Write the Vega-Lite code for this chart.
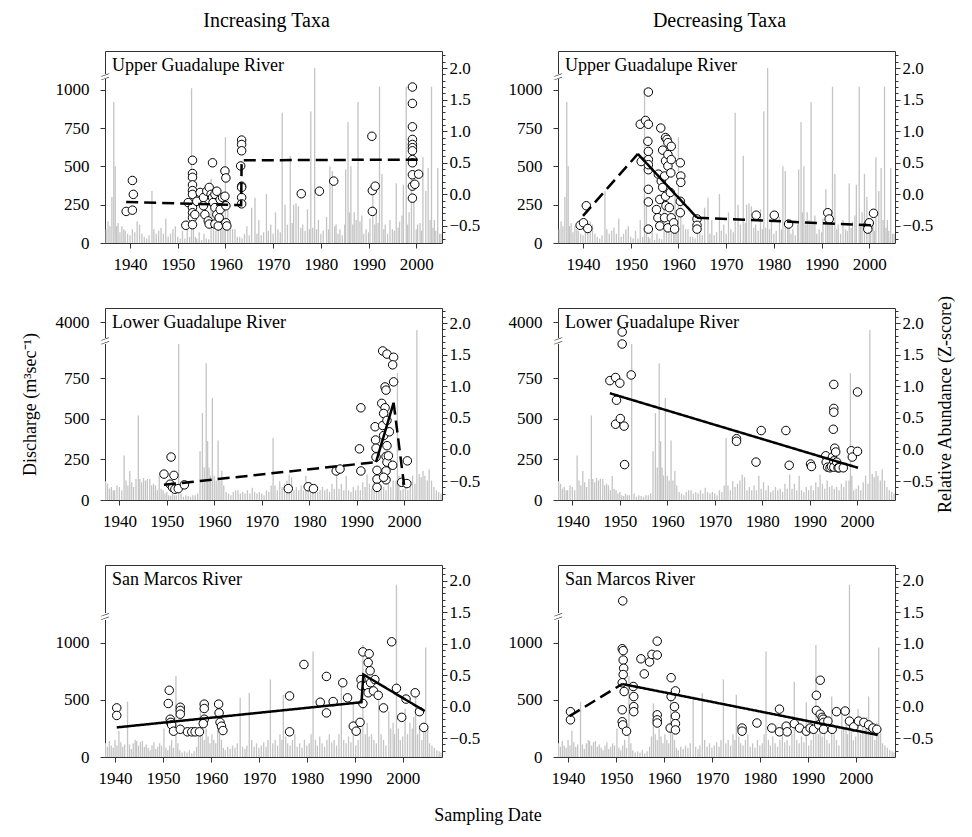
{
"$schema":"https://vega.github.io/schema/vega-lite/v6.json",
"padding":{"left":20,"top":10,"right":5,"bottom":5},
"config":{"font":"Liberation Serif","view":{"stroke":"#333","strokeWidth":1},
"axis":{"labelFont":"Liberation Serif","labelFontSize":17,"labelColor":"black","tickColor":"#333","domain":false,"grid":false,"titleFont":"Liberation Serif","titleFontSize":18,"titleFontWeight":"normal","titleColor":"black","labelOverlap":false,"labelFlush":false,"labelBound":false},
"title":{"font":"Liberation Serif","fontSize":20,"fontWeight":"normal","color":"black","offset":20,"anchor":"middle"}},
"title":{"text":"Sampling Date","orient":"bottom","fontSize":18,"offset":20},
"datasets":{
"qU":[{"t":1935.0,"q":90},{"t":1935.4,"q":140},{"t":1935.8,"q":110},{"t":1936.2,"q":300},{"t":1936.6,"q":920},{"t":1936.9,"q":500},{"t":1937.2,"q":110},{"t":1937.5,"q":130},{"t":1937.9,"q":70},{"t":1938.3,"q":110},{"t":1938.7,"q":90},{"t":1939.0,"q":80},{"t":1939.5,"q":60},{"t":1940.0,"q":50},{"t":1940.5,"q":90},{"t":1941.0,"q":70},{"t":1941.5,"q":140},{"t":1942.0,"q":120},{"t":1942.5,"q":60},{"t":1943.0,"q":40},{"t":1943.5,"q":30},{"t":1944.0,"q":50},{"t":1944.6,"q":340},{"t":1945.0,"q":90},{"t":1945.5,"q":60},{"t":1946.0,"q":80},{"t":1946.5,"q":100},{"t":1947.0,"q":60},{"t":1947.5,"q":160},{"t":1948.0,"q":40},{"t":1948.5,"q":60},{"t":1949.0,"q":90},{"t":1949.5,"q":110},{"t":1950.0,"q":40},{"t":1950.5,"q":30},{"t":1951.0,"q":80},{"t":1951.5,"q":30},{"t":1952.0,"q":150},{"t":1952.5,"q":40},{"t":1952.9,"q":1010},{"t":1953.3,"q":260},{"t":1953.7,"q":40},{"t":1954.0,"q":30},{"t":1954.5,"q":70},{"t":1955.0,"q":20},{"t":1955.5,"q":60},{"t":1956.0,"q":30},{"t":1956.5,"q":25},{"t":1957.0,"q":420},{"t":1957.5,"q":90},{"t":1958.0,"q":80},{"t":1958.5,"q":150},{"t":1959.0,"q":120},{"t":1959.3,"q":330},{"t":1959.7,"q":100},{"t":1960.0,"q":690},{"t":1960.5,"q":300},{"t":1961.0,"q":120},{"t":1961.5,"q":90},{"t":1962.0,"q":90},{"t":1962.5,"q":40},{"t":1963.0,"q":40},{"t":1963.5,"q":30},{"t":1964.0,"q":60},{"t":1964.5,"q":110},{"t":1965.0,"q":50},{"t":1965.5,"q":230},{"t":1966.2,"q":295},{"t":1966.6,"q":60},{"t":1967.0,"q":150},{"t":1967.5,"q":50},{"t":1968.0,"q":70},{"t":1968.6,"q":320},{"t":1969.0,"q":80},{"t":1969.5,"q":120},{"t":1970.0,"q":60},{"t":1970.5,"q":200},{"t":1971.0,"q":90},{"t":1971.5,"q":70},{"t":1971.9,"q":850},{"t":1972.5,"q":250},{"t":1973.0,"q":120},{"t":1973.6,"q":570},{"t":1974.0,"q":130},{"t":1974.3,"q":250},{"t":1974.8,"q":260},{"t":1975.3,"q":240},{"t":1975.8,"q":100},{"t":1976.2,"q":120},{"t":1976.7,"q":80},{"t":1977.2,"q":220},{"t":1977.6,"q":90},{"t":1977.9,"q":860},{"t":1978.3,"q":100},{"t":1978.7,"q":1970},{"t":1979.1,"q":90},{"t":1979.5,"q":150},{"t":1980.0,"q":60},{"t":1980.5,"q":80},{"t":1981.2,"q":170},{"t":1981.6,"q":90},{"t":1981.9,"q":500},{"t":1982.4,"q":470},{"t":1982.9,"q":110},{"t":1983.2,"q":120},{"t":1983.6,"q":60},{"t":1984.0,"q":90},{"t":1984.5,"q":50},{"t":1985.0,"q":120},{"t":1985.2,"q":480},{"t":1985.7,"q":790},{"t":1986.0,"q":200},{"t":1986.3,"q":500},{"t":1986.7,"q":120},{"t":1987.0,"q":200},{"t":1987.4,"q":150},{"t":1987.8,"q":920},{"t":1988.2,"q":140},{"t":1988.6,"q":180},{"t":1989.0,"q":60},{"t":1989.5,"q":90},{"t":1990.0,"q":70},{"t":1990.3,"q":160},{"t":1990.9,"q":350},{"t":1991.3,"q":120},{"t":1991.6,"q":200},{"t":1992.0,"q":130},{"t":1992.3,"q":1020},{"t":1992.8,"q":450},{"t":1993.2,"q":90},{"t":1993.5,"q":120},{"t":1994.0,"q":60},{"t":1994.5,"q":150},{"t":1995.0,"q":90},{"t":1995.4,"q":80},{"t":1995.8,"q":390},{"t":1996.2,"q":100},{"t":1996.5,"q":140},{"t":1997.0,"q":180},{"t":1997.3,"q":380},{"t":1997.9,"q":1020},{"t":1998.2,"q":120},{"t":1998.5,"q":200},{"t":1999.0,"q":450},{"t":1999.5,"q":300},{"t":2000.0,"q":90},{"t":2000.3,"q":120},{"t":2000.8,"q":130},{"t":2001.1,"q":80},{"t":2001.4,"q":560},{"t":2002.0,"q":340},{"t":2002.5,"q":490},{"t":2002.9,"q":150},{"t":2003.2,"q":1020},{"t":2003.5,"q":100},{"t":2003.8,"q":150},{"t":2004.1,"q":80},{"t":2004.5,"q":490},{"t":2004.9,"q":60},{"t":2005.2,"q":60}],
"qL":[{"t":1937.1,"q":115},{"t":1937.5,"q":100},{"t":1937.9,"q":70},{"t":1938.3,"q":80},{"t":1938.7,"q":60},{"t":1939.0,"q":60},{"t":1939.5,"q":90},{"t":1940.0,"q":80},{"t":1940.5,"q":60},{"t":1941.0,"q":274},{"t":1941.4,"q":120},{"t":1941.8,"q":90},{"t":1942.2,"q":178},{"t":1942.6,"q":110},{"t":1943.0,"q":80},{"t":1943.5,"q":130},{"t":1944.0,"q":520},{"t":1944.3,"q":130},{"t":1944.7,"q":110},{"t":1945.1,"q":135},{"t":1945.5,"q":120},{"t":1945.9,"q":130},{"t":1946.4,"q":130},{"t":1946.8,"q":90},{"t":1947.2,"q":100},{"t":1947.6,"q":90},{"t":1948.0,"q":60},{"t":1948.4,"q":147},{"t":1948.8,"q":70},{"t":1949.2,"q":60},{"t":1949.6,"q":40},{"t":1950.0,"q":50},{"t":1950.4,"q":30},{"t":1950.8,"q":25},{"t":1951.2,"q":40},{"t":1951.6,"q":30},{"t":1952.0,"q":30},{"t":1952.5,"q":965},{"t":1953.0,"q":40},{"t":1953.5,"q":20},{"t":1954.0,"q":30},{"t":1954.5,"q":25},{"t":1955.0,"q":20},{"t":1955.5,"q":30},{"t":1956.0,"q":30},{"t":1956.5,"q":40},{"t":1957.0,"q":300},{"t":1957.5,"q":535},{"t":1957.9,"q":200},{"t":1958.3,"q":842},{"t":1958.6,"q":362},{"t":1958.9,"q":200},{"t":1959.2,"q":150},{"t":1959.6,"q":628},{"t":1960.0,"q":150},{"t":1960.4,"q":120},{"t":1960.8,"q":366},{"t":1961.2,"q":120},{"t":1961.6,"q":180},{"t":1962.0,"q":90},{"t":1962.5,"q":50},{"t":1963.0,"q":40},{"t":1963.5,"q":30},{"t":1964.0,"q":50},{"t":1964.5,"q":60},{"t":1965.0,"q":60},{"t":1965.5,"q":40},{"t":1966.0,"q":50},{"t":1966.5,"q":40},{"t":1967.0,"q":60},{"t":1967.5,"q":40},{"t":1968.0,"q":75},{"t":1968.5,"q":50},{"t":1969.0,"q":40},{"t":1969.5,"q":50},{"t":1970.0,"q":40},{"t":1970.5,"q":30},{"t":1971.0,"q":60},{"t":1971.5,"q":50},{"t":1972.0,"q":90},{"t":1972.4,"q":382},{"t":1972.8,"q":90},{"t":1973.3,"q":60},{"t":1973.8,"q":115},{"t":1974.3,"q":80},{"t":1974.8,"q":100},{"t":1975.3,"q":120},{"t":1975.8,"q":157},{"t":1976.3,"q":140},{"t":1976.8,"q":60},{"t":1977.3,"q":80},{"t":1977.8,"q":60},{"t":1978.3,"q":90},{"t":1978.8,"q":60},{"t":1979.3,"q":150},{"t":1979.8,"q":70},{"t":1980.3,"q":110},{"t":1980.8,"q":60},{"t":1981.3,"q":90},{"t":1981.8,"q":50},{"t":1982.3,"q":60},{"t":1982.8,"q":80},{"t":1983.3,"q":60},{"t":1983.8,"q":70},{"t":1984.3,"q":50},{"t":1984.8,"q":100},{"t":1985.3,"q":70},{"t":1985.8,"q":157},{"t":1986.3,"q":70},{"t":1986.8,"q":100},{"t":1987.3,"q":60},{"t":1987.8,"q":150},{"t":1988.3,"q":60},{"t":1988.8,"q":50},{"t":1989.3,"q":80},{"t":1989.8,"q":60},{"t":1990.3,"q":90},{"t":1990.8,"q":60},{"t":1991.3,"q":110},{"t":1991.8,"q":80},{"t":1992.2,"q":157},{"t":1992.7,"q":100},{"t":1993.2,"q":70},{"t":1993.7,"q":120},{"t":1994.2,"q":80},{"t":1994.7,"q":90},{"t":1995.2,"q":70},{"t":1995.7,"q":80},{"t":1996.2,"q":60},{"t":1996.7,"q":100},{"t":1997.2,"q":80},{"t":1997.7,"q":120},{"t":1998.3,"q":120},{"t":1998.6,"q":781},{"t":1998.9,"q":150},{"t":1999.3,"q":60},{"t":1999.8,"q":70},{"t":2000.3,"q":90},{"t":2000.8,"q":60},{"t":2001.3,"q":110},{"t":2001.8,"q":150},{"t":2002.3,"q":100},{"t":2002.7,"q":3500},{"t":2003.2,"q":160},{"t":2003.6,"q":140},{"t":2004.0,"q":178},{"t":2004.4,"q":150},{"t":2004.9,"q":120},{"t":2005.3,"q":190},{"t":2005.8,"q":120},{"t":2006.3,"q":80},{"t":2006.8,"q":60},{"t":2007.3,"q":50},{"t":2007.8,"q":40}],
"qS":[{"t":1938.0,"q":120},{"t":1938.4,"q":90},{"t":1938.8,"q":140},{"t":1939.2,"q":100},{"t":1939.6,"q":80},{"t":1940.0,"q":150},{"t":1940.4,"q":100},{"t":1940.8,"q":230},{"t":1941.2,"q":130},{"t":1941.6,"q":90},{"t":1942.0,"q":110},{"t":1942.6,"q":485},{"t":1943.0,"q":110},{"t":1943.4,"q":70},{"t":1943.8,"q":120},{"t":1944.2,"q":150},{"t":1944.5,"q":140},{"t":1944.9,"q":100},{"t":1945.3,"q":130},{"t":1945.7,"q":140},{"t":1946.1,"q":90},{"t":1946.5,"q":110},{"t":1946.9,"q":80},{"t":1947.3,"q":60},{"t":1947.7,"q":100},{"t":1948.1,"q":130},{"t":1948.5,"q":70},{"t":1948.9,"q":90},{"t":1949.3,"q":120},{"t":1949.7,"q":100},{"t":1950.2,"q":250},{"t":1950.6,"q":80},{"t":1951.0,"q":60},{"t":1951.4,"q":100},{"t":1951.8,"q":150},{"t":1952.2,"q":80},{"t":1952.7,"q":710},{"t":1953.1,"q":120},{"t":1953.5,"q":60},{"t":1954.0,"q":40},{"t":1954.5,"q":50},{"t":1955.0,"q":40},{"t":1955.5,"q":60},{"t":1956.0,"q":30},{"t":1956.5,"q":50},{"t":1957.0,"q":90},{"t":1957.4,"q":180},{"t":1957.8,"q":470},{"t":1958.2,"q":200},{"t":1958.6,"q":150},{"t":1959.0,"q":250},{"t":1959.4,"q":180},{"t":1959.8,"q":120},{"t":1960.2,"q":200},{"t":1960.6,"q":150},{"t":1961.0,"q":120},{"t":1961.4,"q":490},{"t":1961.8,"q":200},{"t":1962.2,"q":150},{"t":1962.6,"q":80},{"t":1963.0,"q":60},{"t":1963.5,"q":90},{"t":1964.0,"q":70},{"t":1964.5,"q":100},{"t":1965.0,"q":80},{"t":1965.5,"q":120},{"t":1966.1,"q":520},{"t":1966.6,"q":90},{"t":1967.1,"q":70},{"t":1967.5,"q":100},{"t":1968.0,"q":560},{"t":1968.5,"q":150},{"t":1969.0,"q":90},{"t":1969.5,"q":120},{"t":1970.0,"q":80},{"t":1970.5,"q":100},{"t":1971.0,"q":130},{"t":1971.5,"q":90},{"t":1971.9,"q":150},{"t":1972.4,"q":680},{"t":1972.9,"q":120},{"t":1973.4,"q":150},{"t":1973.9,"q":100},{"t":1974.4,"q":200},{"t":1974.8,"q":150},{"t":1975.1,"q":545},{"t":1975.6,"q":180},{"t":1976.0,"q":120},{"t":1976.5,"q":100},{"t":1977.0,"q":150},{"t":1977.5,"q":200},{"t":1978.0,"q":90},{"t":1978.5,"q":120},{"t":1979.0,"q":80},{"t":1979.5,"q":150},{"t":1980.0,"q":100},{"t":1980.5,"q":120},{"t":1980.9,"q":200},{"t":1981.3,"q":925},{"t":1981.8,"q":150},{"t":1982.2,"q":100},{"t":1982.7,"q":180},{"t":1983.2,"q":120},{"t":1983.7,"q":90},{"t":1984.2,"q":150},{"t":1984.7,"q":200},{"t":1985.2,"q":130},{"t":1985.7,"q":150},{"t":1986.2,"q":100},{"t":1986.7,"q":200},{"t":1987.2,"q":660},{"t":1987.7,"q":150},{"t":1988.2,"q":120},{"t":1988.7,"q":180},{"t":1989.2,"q":130},{"t":1989.7,"q":480},{"t":1990.2,"q":100},{"t":1990.7,"q":150},{"t":1991.2,"q":250},{"t":1991.7,"q":980},{"t":1992.2,"q":200},{"t":1992.6,"q":300},{"t":1993.0,"q":180},{"t":1993.5,"q":200},{"t":1994.0,"q":150},{"t":1994.5,"q":120},{"t":1995.0,"q":530},{"t":1995.5,"q":200},{"t":1996.0,"q":150},{"t":1996.5,"q":100},{"t":1997.1,"q":400},{"t":1997.5,"q":250},{"t":1998.0,"q":300},{"t":1998.3,"q":200},{"t":1998.7,"q":2740},{"t":1999.1,"q":250},{"t":1999.5,"q":150},{"t":2000.0,"q":180},{"t":2000.5,"q":420},{"t":2001.0,"q":200},{"t":2001.5,"q":300},{"t":2002.0,"q":250},{"t":2002.3,"q":350},{"t":2002.7,"q":530},{"t":2003.1,"q":200},{"t":2003.5,"q":250},{"t":2004.0,"q":150},{"t":2004.4,"q":300},{"t":2004.8,"q":960},{"t":2005.2,"q":250},{"t":2005.6,"q":120},{"t":2006.1,"q":100},{"t":2006.6,"q":80},{"t":2007.1,"q":60},{"t":2007.6,"q":50},{"t":2008.0,"q":40}],
"pts":[
{"p":"UI","t":1939.2,"z":-0.27},{"p":"UI","t":1940.5,"z":-0.25},{"p":"UI","t":1940.5,"z":0.22},{"p":"UI","t":1940.7,"z":0.0},{"p":"UI","t":1951.7,"z":-0.49},{"p":"UI","t":1952.2,"z":-0.13},{"p":"UI","t":1953.1,"z":0.54},{"p":"UI","t":1953.1,"z":0.33},{"p":"UI","t":1953.1,"z":0.27},{"p":"UI","t":1953.1,"z":0.15},{"p":"UI","t":1953.1,"z":0.06},{"p":"UI","t":1953.1,"z":0.0},{"p":"UI","t":1953.1,"z":-0.21},{"p":"UI","t":1953.1,"z":-0.29},{"p":"UI","t":1953.1,"z":-0.37},{"p":"UI","t":1953.1,"z":-0.48},{"p":"UI","t":1953.6,"z":-0.32},{"p":"UI","t":1954.0,"z":-0.11},{"p":"UI","t":1954.7,"z":0.03},{"p":"UI","t":1955.4,"z":-0.05},{"p":"UI","t":1955.4,"z":-0.18},{"p":"UI","t":1955.7,"z":-0.32},{"p":"UI","t":1956.1,"z":0.05},{"p":"UI","t":1956.4,"z":-0.42},{"p":"UI","t":1956.6,"z":0.11},{"p":"UI","t":1956.6,"z":-0.47},{"p":"UI","t":1957.0,"z":0.0},{"p":"UI","t":1957.3,"z":0.5},{"p":"UI","t":1957.3,"z":-0.05},{"p":"UI","t":1957.4,"z":-0.13},{"p":"UI","t":1957.8,"z":-0.21},{"p":"UI","t":1957.8,"z":0.0},{"p":"UI","t":1957.8,"z":-0.47},{"p":"UI","t":1958.2,"z":-0.32},{"p":"UI","t":1958.2,"z":0.05},{"p":"UI","t":1958.5,"z":-0.5},{"p":"UI","t":1958.7,"z":-0.37},{"p":"UI","t":1958.9,"z":-0.24},{"p":"UI","t":1958.9,"z":-0.08},{"p":"UI","t":1959.4,"z":-0.05},{"p":"UI","t":1959.9,"z":0.37},{"p":"UI","t":1960.1,"z":0.26},{"p":"UI","t":1959.9,"z":-0.03},{"p":"UI","t":1960.1,"z":-0.18},{"p":"UI","t":1960.1,"z":-0.45},{"p":"UI","t":1960.3,"z":-0.5},{"p":"UI","t":1963.4,"z":0.86},{"p":"UI","t":1963.4,"z":0.79},{"p":"UI","t":1963.4,"z":0.69},{"p":"UI","t":1963.2,"z":0.45},{"p":"UI","t":1963.4,"z":0.13},{"p":"UI","t":1963.4,"z":0.11},{"p":"UI","t":1963.4,"z":-0.05},{"p":"UI","t":1963.4,"z":-0.15},{"p":"UI","t":1975.9,"z":0.01},{"p":"UI","t":1979.7,"z":0.05},{"p":"UI","t":1982.7,"z":0.21},{"p":"UI","t":1990.7,"z":0.92},{"p":"UI","t":1990.8,"z":0.06},{"p":"UI","t":1991.4,"z":0.13},{"p":"UI","t":1990.8,"z":-0.27},{"p":"UI","t":1999.2,"z":1.7},{"p":"UI","t":1999.2,"z":1.44},{"p":"UI","t":1999.2,"z":1.07},{"p":"UI","t":1999.2,"z":0.87},{"p":"UI","t":1999.2,"z":0.79},{"p":"UI","t":1999.2,"z":0.74},{"p":"UI","t":1999.2,"z":0.69},{"p":"UI","t":1999.2,"z":0.55},{"p":"UI","t":1999.2,"z":0.5},{"p":"UI","t":1999.2,"z":0.31},{"p":"UI","t":1999.2,"z":0.13},{"p":"UI","t":1999.2,"z":-0.06},{"p":"UI","t":2000.5,"z":0.32},{"p":"UI","t":1999.7,"z":0.16},
{"p":"UD","t":1939.4,"z":-0.49},{"p":"UD","t":1940.1,"z":-0.45},{"p":"UD","t":1940.7,"z":-0.18},{"p":"UD","t":1941.0,"z":-0.54},{"p":"UD","t":1952.0,"z":1.11},{"p":"UD","t":1953.1,"z":1.17},{"p":"UD","t":1953.7,"z":1.11},{"p":"UD","t":1953.7,"z":1.62},{"p":"UD","t":1953.6,"z":0.84},{"p":"UD","t":1953.7,"z":0.68},{"p":"UD","t":1953.7,"z":0.55},{"p":"UD","t":1953.7,"z":0.39},{"p":"UD","t":1953.7,"z":0.47},{"p":"UD","t":1953.7,"z":0.08},{"p":"UD","t":1953.7,"z":-0.12},{"p":"UD","t":1953.7,"z":-0.55},{"p":"UD","t":1952.2,"z":0.52},{"p":"UD","t":1955.4,"z":-0.24},{"p":"UD","t":1955.7,"z":-0.37},{"p":"UD","t":1955.8,"z":0.32},{"p":"UD","t":1956.1,"z":-0.08},{"p":"UD","t":1956.1,"z":-0.5},{"p":"UD","t":1956.3,"z":1.05},{"p":"UD","t":1956.4,"z":0.21},{"p":"UD","t":1956.7,"z":0.7},{"p":"UD","t":1956.7,"z":0.11},{"p":"UD","t":1957.1,"z":0.29},{"p":"UD","t":1957.1,"z":-0.37},{"p":"UD","t":1957.3,"z":0.9},{"p":"UD","t":1957.3,"z":0.53},{"p":"UD","t":1957.3,"z":-0.03},{"p":"UD","t":1957.4,"z":-0.18},{"p":"UD","t":1957.6,"z":0.87},{"p":"UD","t":1957.8,"z":0.82},{"p":"UD","t":1957.8,"z":0.63},{"p":"UD","t":1957.8,"z":0.45},{"p":"UD","t":1957.8,"z":-0.53},{"p":"UD","t":1958.1,"z":-0.21},{"p":"UD","t":1958.3,"z":0.03},{"p":"UD","t":1958.4,"z":0.34},{"p":"UD","t":1958.5,"z":0.76},{"p":"UD","t":1958.5,"z":0.55},{"p":"UD","t":1958.5,"z":-0.37},{"p":"UD","t":1959.0,"z":-0.45},{"p":"UD","t":1959.2,"z":-0.55},{"p":"UD","t":1960.4,"z":0.5},{"p":"UD","t":1960.5,"z":0.29},{"p":"UD","t":1960.5,"z":0.19},{"p":"UD","t":1960.4,"z":-0.11},{"p":"UD","t":1960.4,"z":-0.29},{"p":"UD","t":1963.9,"z":-0.39},{"p":"UD","t":1963.9,"z":-0.49},{"p":"UD","t":1963.9,"z":-0.55},{"p":"UD","t":1976.3,"z":-0.33},{"p":"UD","t":1980.1,"z":-0.33},{"p":"UD","t":1983.1,"z":-0.47},{"p":"UD","t":1991.3,"z":-0.29},{"p":"UD","t":1991.6,"z":-0.39},{"p":"UD","t":1999.7,"z":-0.49},{"p":"UD","t":2000.0,"z":-0.45},{"p":"UD","t":1999.7,"z":-0.55},{"p":"UD","t":2000.9,"z":-0.3},
{"p":"LI","t":1949.4,"z":-0.39},{"p":"LI","t":1950.9,"z":-0.12},{"p":"LI","t":1950.7,"z":-0.55},{"p":"LI","t":1951.2,"z":-0.6},{"p":"LI","t":1951.5,"z":-0.41},{"p":"LI","t":1951.7,"z":-0.63},{"p":"LI","t":1952.4,"z":-0.62},{"p":"LI","t":1953.7,"z":-0.56},{"p":"LI","t":1975.6,"z":-0.62},{"p":"LI","t":1979.8,"z":-0.59},{"p":"LI","t":1980.9,"z":-0.62},{"p":"LI","t":1985.7,"z":-0.34},{"p":"LI","t":1986.5,"z":-0.31},{"p":"LI","t":1990.6,"z":0.01},{"p":"LI","t":1990.9,"z":0.66},{"p":"LI","t":1990.9,"z":-0.34},{"p":"LI","t":1993.9,"z":0.36},{"p":"LI","t":1994.0,"z":0.15},{"p":"LI","t":1994.1,"z":0.02},{"p":"LI","t":1994.1,"z":-0.12},{"p":"LI","t":1994.3,"z":-0.33},{"p":"LI","t":1994.3,"z":-0.47},{"p":"LI","t":1994.3,"z":-0.6},{"p":"LI","t":1995.5,"z":1.56},{"p":"LI","t":1996.4,"z":1.51},{"p":"LI","t":1996.0,"z":0.99},{"p":"LI","t":1996.2,"z":0.94},{"p":"LI","t":1995.3,"z":0.73},{"p":"LI","t":1996.0,"z":0.66},{"p":"LI","t":1995.7,"z":0.57},{"p":"LI","t":1995.5,"z":0.38},{"p":"LI","t":1995.7,"z":0.22},{"p":"LI","t":1996.4,"z":0.06},{"p":"LI","t":1996.2,"z":-0.11},{"p":"LI","t":1996.4,"z":-0.2},{"p":"LI","t":1996.2,"z":-0.34},{"p":"LI","t":1996.2,"z":-0.48},{"p":"LI","t":1996.7,"z":-0.1},{"p":"LI","t":1996.4,"z":0.46},{"p":"LI","t":1996.9,"z":0.28},{"p":"LI","t":1995.7,"z":-0.44},{"p":"LI","t":1997.8,"z":1.46},{"p":"LI","t":1997.6,"z":1.34},{"p":"LI","t":1997.8,"z":1.07},{"p":"LI","t":1997.6,"z":-0.25},{"p":"LI","t":1999.5,"z":-0.52},{"p":"LI","t":2000.6,"z":-0.54},{"p":"LI","t":2000.7,"z":-0.18},
{"p":"LD","t":1947.9,"z":1.09},{"p":"LD","t":1949.1,"z":1.14},{"p":"LD","t":1949.3,"z":0.78},{"p":"LD","t":1949.1,"z":0.4},{"p":"LD","t":1950.0,"z":1.05},{"p":"LD","t":1950.1,"z":0.49},{"p":"LD","t":1950.5,"z":1.86},{"p":"LD","t":1950.5,"z":1.67},{"p":"LD","t":1950.9,"z":0.37},{"p":"LD","t":1951.0,"z":-0.24},{"p":"LD","t":1952.4,"z":1.18},{"p":"LD","t":1974.6,"z":0.17},{"p":"LD","t":1974.6,"z":0.13},{"p":"LD","t":1978.7,"z":-0.2},{"p":"LD","t":1979.8,"z":0.3},{"p":"LD","t":1985.0,"z":0.3},{"p":"LD","t":1985.7,"z":-0.25},{"p":"LD","t":1990.2,"z":-0.23},{"p":"LD","t":1990.4,"z":-0.27},{"p":"LD","t":1993.4,"z":-0.1},{"p":"LD","t":1993.5,"z":-0.2},{"p":"LD","t":1993.8,"z":-0.28},{"p":"LD","t":1994.3,"z":-0.29},{"p":"LD","t":1994.6,"z":-0.27},{"p":"LD","t":1994.8,"z":-0.12},{"p":"LD","t":1995.1,"z":1.03},{"p":"LD","t":1995.1,"z":0.65},{"p":"LD","t":1995.1,"z":0.59},{"p":"LD","t":1995.0,"z":0.32},{"p":"LD","t":1995.3,"z":0.02},{"p":"LD","t":1995.5,"z":-0.04},{"p":"LD","t":1995.1,"z":-0.18},{"p":"LD","t":1995.1,"z":-0.28},{"p":"LD","t":1995.7,"z":-0.2},{"p":"LD","t":1996.0,"z":-0.29},{"p":"LD","t":1996.2,"z":-0.29},{"p":"LD","t":1997.1,"z":-0.29},{"p":"LD","t":1998.8,"z":-0.02},{"p":"LD","t":1999.0,"z":-0.12},{"p":"LD","t":2000.1,"z":-0.03},{"p":"LD","t":2000.1,"z":0.91},
{"p":"SI","t":1940.35,"z":-0.02},{"p":"SI","t":1940.35,"z":-0.14},{"p":"SI","t":1951.3,"z":0.26},{"p":"SI","t":1951.1,"z":0.05},{"p":"SI","t":1951.5,"z":-0.2},{"p":"SI","t":1951.6,"z":-0.25},{"p":"SI","t":1951.8,"z":-0.29},{"p":"SI","t":1952.2,"z":-0.39},{"p":"SI","t":1953.6,"z":-0.01},{"p":"SI","t":1953.6,"z":-0.06},{"p":"SI","t":1953.6,"z":-0.12},{"p":"SI","t":1953.6,"z":-0.36},{"p":"SI","t":1955.1,"z":-0.4},{"p":"SI","t":1956.0,"z":-0.4},{"p":"SI","t":1956.7,"z":-0.4},{"p":"SI","t":1957.6,"z":-0.4},{"p":"SI","t":1958.6,"z":0.04},{"p":"SI","t":1958.6,"z":-0.03},{"p":"SI","t":1958.6,"z":-0.2},{"p":"SI","t":1958.4,"z":-0.27},{"p":"SI","t":1961.6,"z":0.04},{"p":"SI","t":1961.7,"z":-0.1},{"p":"SI","t":1961.9,"z":-0.25},{"p":"SI","t":1962.2,"z":-0.31},{"p":"SI","t":1962.5,"z":-0.38},{"p":"SI","t":1976.4,"z":0.17},{"p":"SI","t":1976.4,"z":-0.4},{"p":"SI","t":1979.4,"z":0.67},{"p":"SI","t":1982.8,"z":0.07},{"p":"SI","t":1984.1,"z":0.48},{"p":"SI","t":1984.1,"z":-0.1},{"p":"SI","t":1985.5,"z":0.08},{"p":"SI","t":1987.5,"z":0.38},{"p":"SI","t":1988.5,"z":0.14},{"p":"SI","t":1989.7,"z":-0.31},{"p":"SI","t":1990.3,"z":-0.39},{"p":"SI","t":1991.1,"z":-0.25},{"p":"SI","t":1991.7,"z":0.87},{"p":"SI","t":1991.3,"z":0.43},{"p":"SI","t":1991.4,"z":0.33},{"p":"SI","t":1991.7,"z":0.05},{"p":"SI","t":1992.5,"z":0.33},{"p":"SI","t":1993.0,"z":0.84},{"p":"SI","t":1992.8,"z":0.7},{"p":"SI","t":1993.2,"z":0.57},{"p":"SI","t":1993.3,"z":0.38},{"p":"SI","t":1992.8,"z":0.22},{"p":"SI","t":1993.9,"z":0.25},{"p":"SI","t":1994.2,"z":0.43},{"p":"SI","t":1994.9,"z":0.18},{"p":"SI","t":1996.0,"z":-0.02},{"p":"SI","t":1997.7,"z":1.03},{"p":"SI","t":1998.7,"z":0.29},{"p":"SI","t":1999.8,"z":-0.17},{"p":"SI","t":2000.7,"z":0.12},{"p":"SI","t":2002.6,"z":0.22},{"p":"SI","t":2003.5,"z":-0.08},{"p":"SI","t":2004.4,"z":-0.33},
{"p":"SD","t":1940.5,"z":-0.08},{"p":"SD","t":1940.5,"z":-0.21},{"p":"SD","t":1951.4,"z":1.68},{"p":"SD","t":1951.3,"z":0.92},{"p":"SD","t":1951.5,"z":0.89},{"p":"SD","t":1951.5,"z":0.74},{"p":"SD","t":1951.6,"z":0.61},{"p":"SD","t":1951.5,"z":0.51},{"p":"SD","t":1951.3,"z":0.38},{"p":"SD","t":1951.7,"z":0.24},{"p":"SD","t":1951.3,"z":-0.05},{"p":"SD","t":1951.3,"z":-0.24},{"p":"SD","t":1951.4,"z":-0.29},{"p":"SD","t":1952.2,"z":-0.39},{"p":"SD","t":1953.6,"z":0.32},{"p":"SD","t":1953.7,"z":0.16},{"p":"SD","t":1953.7,"z":0.0},{"p":"SD","t":1953.7,"z":-0.08},{"p":"SD","t":1955.2,"z":0.76},{"p":"SD","t":1955.9,"z":0.52},{"p":"SD","t":1957.0,"z":0.71},{"p":"SD","t":1957.5,"z":0.83},{"p":"SD","t":1958.6,"z":1.04},{"p":"SD","t":1958.6,"z":0.82},{"p":"SD","t":1958.6,"z":-0.13},{"p":"SD","t":1958.6,"z":-0.21},{"p":"SD","t":1958.6,"z":-0.26},{"p":"SD","t":1961.5,"z":0.46},{"p":"SD","t":1961.5,"z":0.16},{"p":"SD","t":1961.3,"z":-0.34},{"p":"SD","t":1962.4,"z":0.25},{"p":"SD","t":1962.2,"z":0.0},{"p":"SD","t":1962.4,"z":-0.15},{"p":"SD","t":1962.4,"z":-0.27},{"p":"SD","t":1962.4,"z":-0.37},{"p":"SD","t":1976.3,"z":-0.34},{"p":"SD","t":1976.3,"z":-0.39},{"p":"SD","t":1979.4,"z":-0.26},{"p":"SD","t":1982.5,"z":-0.34},{"p":"SD","t":1984.1,"z":-0.04},{"p":"SD","t":1984.1,"z":-0.4},{"p":"SD","t":1985.5,"z":-0.31},{"p":"SD","t":1985.7,"z":-0.4},{"p":"SD","t":1987.2,"z":-0.27},{"p":"SD","t":1988.3,"z":-0.34},{"p":"SD","t":1989.7,"z":-0.39},{"p":"SD","t":1990.5,"z":-0.34},{"p":"SD","t":1991.2,"z":-0.36},{"p":"SD","t":1991.8,"z":0.18},{"p":"SD","t":1991.8,"z":-0.06},{"p":"SD","t":1992.3,"z":-0.29},{"p":"SD","t":1992.6,"z":0.42},{"p":"SD","t":1992.6,"z":-0.12},{"p":"SD","t":1993.0,"z":-0.17},{"p":"SD","t":1993.2,"z":-0.2},{"p":"SD","t":1993.3,"z":-0.25},{"p":"SD","t":1993.3,"z":-0.36},{"p":"SD","t":1994.2,"z":-0.23},{"p":"SD","t":1995.1,"z":-0.36},{"p":"SD","t":1996.0,"z":-0.08},{"p":"SD","t":1997.8,"z":-0.07},{"p":"SD","t":1998.7,"z":-0.23},{"p":"SD","t":1999.6,"z":-0.32},{"p":"SD","t":2000.6,"z":-0.23},{"p":"SD","t":2001.7,"z":-0.25},{"p":"SD","t":2002.7,"z":-0.29},{"p":"SD","t":2003.6,"z":-0.34},{"p":"SD","t":2004.4,"z":-0.36}],
"trend":[
{"p":"UI","s":"a","d":"d","t":1939.2,"z":-0.12},{"p":"UI","s":"a","d":"d","t":1963.3,"z":-0.17},{"p":"UI","s":"a","d":"d","t":1963.4,"z":0.54},{"p":"UI","s":"a","d":"d","t":2000.5,"z":0.55},
{"p":"UD","s":"a","d":"d","t":1940.0,"z":-0.34},{"p":"UD","s":"a","d":"d","t":1951.5,"z":0.64},{"p":"UD","s":"b","d":"s","t":1951.5,"z":0.64},{"p":"UD","s":"b","d":"s","t":1963.9,"z":-0.37},{"p":"UD","s":"c","d":"d","t":1963.9,"z":-0.37},{"p":"UD","s":"c","d":"d","t":2000.7,"z":-0.49},
{"p":"LI","s":"a","d":"d","t":1949.4,"z":-0.56},{"p":"LI","s":"a","d":"d","t":1994.1,"z":-0.2},{"p":"LI","s":"b","d":"s","t":1994.1,"z":-0.2},{"p":"LI","s":"b","d":"s","t":1997.8,"z":0.74},{"p":"LI","s":"c","d":"d","t":1997.8,"z":0.74},{"p":"LI","s":"c","d":"d","t":2000.0,"z":-0.56},
{"p":"LD","s":"a","d":"s","t":1947.9,"z":0.89},{"p":"LD","s":"a","d":"s","t":2000.2,"z":-0.29},
{"p":"SI","s":"a","d":"s","t":1940.35,"z":-0.33},{"p":"SI","s":"a","d":"s","t":1991.4,"z":0.07},{"p":"SI","s":"a","d":"s","t":1991.8,"z":0.51},{"p":"SI","s":"a","d":"s","t":2004.6,"z":-0.07},
{"p":"SD","s":"a","d":"d","t":1940.3,"z":-0.15},{"p":"SD","s":"a","d":"d","t":1951.3,"z":0.36},{"p":"SD","s":"b","d":"s","t":1951.3,"z":0.36},{"p":"SD","s":"b","d":"s","t":2004.6,"z":-0.45}]
},
"columns":2,
"bounds":"flush",
"spacing":{"row":65,"column":116},
"concat":[
{"width":337,"height":192,"title":{"text":"Increasing Taxa","dx":-7},
 "layer":[
  {"layer":[
   {"data":{"name":"qU"},"mark":{"type":"rule","color":"#c4c4c4","strokeWidth":1.3,"clip":true},
    "encoding":{"x":{"field":"t","type":"quantitative","scale":{"domain":[1934.76,2005.4],"nice":false,"zero":false},"axis":{"values":[1940,1945,1950,1955,1960,1965,1970,1975,1980,1985,1990,1995,2000,2005],"labelExpr":"datum.value % 10 == 0 ? toString(datum.value) : ''","tickSize":5,"labelPadding":8,"title":null}},
     "y":{"field":"q","type":"quantitative","scale":{"domain":[0,1070,1600,3000],"range":[192,28,23,0],"nice":false,"zero":false},"axis":{"orient":"left","values":[0,125,250,375,500,625,750,875,1000],"labelExpr":"datum.value % 250 == 0 ? toString(datum.value) : ''","tickSize":5,"labelPadding":11,"title":null}},
     "y2":{"datum":0}}},
   {"data":{"values":[{}]},"mark":{"type":"rule","color":"white","strokeWidth":4},
    "encoding":{"x":{"datum":1934.76,"type":"quantitative"},"y":{"datum":1070,"type":"quantitative"},"y2":{"datum":1600}}},
   {"data":{"values":[{}]},"mark":{"type":"text","text":"\\\\","angle":90,"fontSize":13,"color":"#333"},
    "encoding":{"x":{"datum":1934.76,"type":"quantitative"},"y":{"datum":1300,"type":"quantitative"}}},
   {"data":{"values":[{"n":"Upper Guadalupe River"}]},"mark":{"type":"text","align":"left","baseline":"top","dx":7,"dy":6,"fontSize":18,"color":"black"},
    "encoding":{"x":{"datum":1934.76,"type":"quantitative"},"y":{"datum":3000,"type":"quantitative"},"text":{"field":"n"}}}
  ]},
  {"data":{"name":"pts"},"transform":[{"filter":"datum.p=='UI'"}],"mark":{"type":"point","shape":"circle","filled":true,"fill":"white","stroke":"black","strokeWidth":1,"size":72,"opacity":1},
   "encoding":{"x":{"field":"t","type":"quantitative"},"y":{"field":"z","type":"quantitative","scale":{"domain":[-0.77,2.27],"nice":false,"zero":false},"axis":{"orient":"right","values":[-0.5,0,0.5,1,1.5,2],"format":".1f","tickSize":5,"labelPadding":2,"title":null}}}},
  {"data":{"name":"trend"},"transform":[{"filter":"datum.p=='UI'"}],"mark":{"type":"line","color":"black","strokeWidth":2.5},
   "encoding":{"x":{"field":"t","type":"quantitative"},"y":{"field":"z","type":"quantitative","scale":{"domain":[-0.77,2.27],"nice":false,"zero":false},"axis":{"orient":"right","values":[-0.7,-0.6,-0.4,-0.3,-0.2,-0.1,0.1,0.2,0.3,0.4,0.6,0.7,0.8,0.9,1.1,1.2,1.3,1.4,1.6,1.7,1.8,1.9,2.1,2.2],"labels":false,"tickSize":3,"title":null}},"detail":{"field":"s"},"strokeDash":{"field":"d","type":"nominal","scale":{"domain":["s","d"],"range":[[1,0],[12,6]]},"legend":null}}}
 ],
 "resolve":{"scale":{"y":"independent"}}},
{"width":337,"height":192,"title":{"text":"Decreasing Taxa","dx":-7},
 "layer":[
  {"layer":[
   {"data":{"name":"qU"},"mark":{"type":"rule","color":"#c4c4c4","strokeWidth":1.3,"clip":true},
    "encoding":{"x":{"field":"t","type":"quantitative","scale":{"domain":[1934.76,2005.4],"nice":false,"zero":false},"axis":{"values":[1940,1945,1950,1955,1960,1965,1970,1975,1980,1985,1990,1995,2000,2005],"labelExpr":"datum.value % 10 == 0 ? toString(datum.value) : ''","tickSize":5,"labelPadding":8,"title":null}},
     "y":{"field":"q","type":"quantitative","scale":{"domain":[0,1070,1600,3000],"range":[192,28,23,0],"nice":false,"zero":false},"axis":{"orient":"left","values":[0,125,250,375,500,625,750,875,1000],"labelExpr":"datum.value % 250 == 0 ? toString(datum.value) : ''","tickSize":5,"labelPadding":11,"title":null}},
     "y2":{"datum":0}}},
   {"data":{"values":[{}]},"mark":{"type":"rule","color":"white","strokeWidth":4},
    "encoding":{"x":{"datum":1934.76,"type":"quantitative"},"y":{"datum":1070,"type":"quantitative"},"y2":{"datum":1600}}},
   {"data":{"values":[{}]},"mark":{"type":"text","text":"\\\\","angle":90,"fontSize":13,"color":"#333"},
    "encoding":{"x":{"datum":1934.76,"type":"quantitative"},"y":{"datum":1300,"type":"quantitative"}}},
   {"data":{"values":[{"n":"Upper Guadalupe River"}]},"mark":{"type":"text","align":"left","baseline":"top","dx":7,"dy":6,"fontSize":18,"color":"black"},
    "encoding":{"x":{"datum":1934.76,"type":"quantitative"},"y":{"datum":3000,"type":"quantitative"},"text":{"field":"n"}}}
  ]},
  {"data":{"name":"pts"},"transform":[{"filter":"datum.p=='UD'"}],"mark":{"type":"point","shape":"circle","filled":true,"fill":"white","stroke":"black","strokeWidth":1,"size":72,"opacity":1},
   "encoding":{"x":{"field":"t","type":"quantitative"},"y":{"field":"z","type":"quantitative","scale":{"domain":[-0.77,2.27],"nice":false,"zero":false},"axis":{"orient":"right","values":[-0.5,0,0.5,1,1.5,2],"format":".1f","tickSize":5,"labelPadding":2,"title":null}}}},
  {"data":{"name":"trend"},"transform":[{"filter":"datum.p=='UD'"}],"mark":{"type":"line","color":"black","strokeWidth":2.5},
   "encoding":{"x":{"field":"t","type":"quantitative"},"y":{"field":"z","type":"quantitative","scale":{"domain":[-0.77,2.27],"nice":false,"zero":false},"axis":{"orient":"right","values":[-0.7,-0.6,-0.4,-0.3,-0.2,-0.1,0.1,0.2,0.3,0.4,0.6,0.7,0.8,0.9,1.1,1.2,1.3,1.4,1.6,1.7,1.8,1.9,2.1,2.2],"labels":false,"tickSize":3,"title":null}},"detail":{"field":"s"},"strokeDash":{"field":"d","type":"nominal","scale":{"domain":["s","d"],"range":[[1,0],[12,6]]},"legend":null}}}
 ],
 "resolve":{"scale":{"y":"independent"}}},
{"width":337,"height":192,
 "layer":[
  {"layer":[
   {"data":{"name":"qL"},"mark":{"type":"rule","color":"#c4c4c4","strokeWidth":1.3,"clip":true},
    "encoding":{"x":{"field":"t","type":"quantitative","scale":{"domain":[1936.97,2008.0],"nice":false,"zero":false},"axis":{"values":[1940,1945,1950,1955,1960,1965,1970,1975,1980,1985,1990,1995,2000,2005],"labelExpr":"datum.value % 10 == 0 ? toString(datum.value) : ''","tickSize":5,"labelPadding":8,"title":null}},
     "y":{"field":"q","type":"quantitative","scale":{"domain":[0,960,3000,4000,4850],"range":[192,36,30,14,0],"nice":false,"zero":false},"axis":{"orient":"left","values":[0,125,250,375,500,625,750,875,4000],"labelExpr":"datum.value % 250 == 0 ? toString(datum.value) : ''","tickSize":5,"labelPadding":11,"title":"Discharge (m\u00b3sec\u207b\u00b9)","titlePadding":16}},
     "y2":{"datum":0}}},
   {"data":{"values":[{}]},"mark":{"type":"rule","color":"white","strokeWidth":4},
    "encoding":{"x":{"datum":1936.97,"type":"quantitative"},"y":{"datum":960,"type":"quantitative"},"y2":{"datum":3000}}},
   {"data":{"values":[{}]},"mark":{"type":"text","text":"\\\\","angle":90,"fontSize":13,"color":"#333"},
    "encoding":{"x":{"datum":1936.97,"type":"quantitative"},"y":{"datum":2000,"type":"quantitative"}}},
   {"data":{"values":[{"n":"Lower Guadalupe River"}]},"mark":{"type":"text","align":"left","baseline":"top","dx":7,"dy":6,"fontSize":18,"color":"black"},
    "encoding":{"x":{"datum":1936.97,"type":"quantitative"},"y":{"datum":4850,"type":"quantitative"},"text":{"field":"n"}}}
  ]},
  {"data":{"name":"pts"},"transform":[{"filter":"datum.p=='LI'"}],"mark":{"type":"point","shape":"circle","filled":true,"fill":"white","stroke":"black","strokeWidth":1,"size":72,"opacity":1},
   "encoding":{"x":{"field":"t","type":"quantitative"},"y":{"field":"z","type":"quantitative","scale":{"domain":[-0.8,2.24],"nice":false,"zero":false},"axis":{"orient":"right","values":[-0.5,0,0.5,1,1.5,2],"format":".1f","tickSize":5,"labelPadding":2,"title":null}}}},
  {"data":{"name":"trend"},"transform":[{"filter":"datum.p=='LI'"}],"mark":{"type":"line","color":"black","strokeWidth":2.5},
   "encoding":{"x":{"field":"t","type":"quantitative"},"y":{"field":"z","type":"quantitative","scale":{"domain":[-0.8,2.24],"nice":false,"zero":false},"axis":{"orient":"right","values":[-0.7,-0.6,-0.4,-0.3,-0.2,-0.1,0.1,0.2,0.3,0.4,0.6,0.7,0.8,0.9,1.1,1.2,1.3,1.4,1.6,1.7,1.8,1.9,2.1,2.2],"labels":false,"tickSize":3,"title":null}},"detail":{"field":"s"},"strokeDash":{"field":"d","type":"nominal","scale":{"domain":["s","d"],"range":[[1,0],[12,6]]},"legend":null}}}
 ],
 "resolve":{"scale":{"y":"independent"}}},
{"width":337,"height":192,
 "layer":[
  {"layer":[
   {"data":{"name":"qL"},"mark":{"type":"rule","color":"#c4c4c4","strokeWidth":1.3,"clip":true},
    "encoding":{"x":{"field":"t","type":"quantitative","scale":{"domain":[1936.97,2008.0],"nice":false,"zero":false},"axis":{"values":[1940,1945,1950,1955,1960,1965,1970,1975,1980,1985,1990,1995,2000,2005],"labelExpr":"datum.value % 10 == 0 ? toString(datum.value) : ''","tickSize":5,"labelPadding":8,"title":null}},
     "y":{"field":"q","type":"quantitative","scale":{"domain":[0,960,3000,4000,4850],"range":[192,36,30,14,0],"nice":false,"zero":false},"axis":{"orient":"left","values":[0,125,250,375,500,625,750,875,4000],"labelExpr":"datum.value % 250 == 0 ? toString(datum.value) : ''","tickSize":5,"labelPadding":11,"title":null}},
     "y2":{"datum":0}}},
   {"data":{"values":[{}]},"mark":{"type":"rule","color":"white","strokeWidth":4},
    "encoding":{"x":{"datum":1936.97,"type":"quantitative"},"y":{"datum":960,"type":"quantitative"},"y2":{"datum":3000}}},
   {"data":{"values":[{}]},"mark":{"type":"text","text":"\\\\","angle":90,"fontSize":13,"color":"#333"},
    "encoding":{"x":{"datum":1936.97,"type":"quantitative"},"y":{"datum":2000,"type":"quantitative"}}},
   {"data":{"values":[{"n":"Lower Guadalupe River"}]},"mark":{"type":"text","align":"left","baseline":"top","dx":7,"dy":6,"fontSize":18,"color":"black"},
    "encoding":{"x":{"datum":1936.97,"type":"quantitative"},"y":{"datum":4850,"type":"quantitative"},"text":{"field":"n"}}}
  ]},
  {"data":{"name":"pts"},"transform":[{"filter":"datum.p=='LD'"}],"mark":{"type":"point","shape":"circle","filled":true,"fill":"white","stroke":"black","strokeWidth":1,"size":72,"opacity":1},
   "encoding":{"x":{"field":"t","type":"quantitative"},"y":{"field":"z","type":"quantitative","scale":{"domain":[-0.8,2.24],"nice":false,"zero":false},"axis":{"orient":"right","values":[-0.5,0,0.5,1,1.5,2],"format":".1f","tickSize":5,"labelPadding":2,"title":"Relative Abundance (Z-score)","titleAngle":-90,"titleBaseline":"top","titlePadding":4}}}},
  {"data":{"name":"trend"},"transform":[{"filter":"datum.p=='LD'"}],"mark":{"type":"line","color":"black","strokeWidth":2.5},
   "encoding":{"x":{"field":"t","type":"quantitative"},"y":{"field":"z","type":"quantitative","scale":{"domain":[-0.8,2.24],"nice":false,"zero":false},"axis":{"orient":"right","values":[-0.7,-0.6,-0.4,-0.3,-0.2,-0.1,0.1,0.2,0.3,0.4,0.6,0.7,0.8,0.9,1.1,1.2,1.3,1.4,1.6,1.7,1.8,1.9,2.1,2.2],"labels":false,"tickSize":3,"title":null}},"detail":{"field":"s"},"strokeDash":{"field":"d","type":"nominal","scale":{"domain":["s","d"],"range":[[1,0],[12,6]]},"legend":null}}}
 ],
 "resolve":{"scale":{"y":"independent"}}},
{"width":337,"height":192,
 "layer":[
  {"layer":[
   {"data":{"name":"qS"},"mark":{"type":"rule","color":"#c4c4c4","strokeWidth":1.3,"clip":true},
    "encoding":{"x":{"field":"t","type":"quantitative","scale":{"domain":[1937.9,2008.2],"nice":false,"zero":false},"axis":{"values":[1940,1945,1950,1955,1960,1965,1970,1975,1980,1985,1990,1995,2000,2005],"labelExpr":"datum.value % 10 == 0 ? toString(datum.value) : ''","tickSize":5,"labelPadding":8,"title":null}},
     "y":{"field":"q","type":"quantitative","scale":{"domain":[0,1200,2000,2500,3260],"range":[192,55,48,29,0],"nice":false,"zero":false},"axis":{"orient":"left","values":[0,250,500,750,1000,2500],"labelExpr":"datum.value % 500 == 0 ? toString(datum.value) : ''","tickSize":5,"labelPadding":11,"title":null}},
     "y2":{"datum":0}}},
   {"data":{"values":[{}]},"mark":{"type":"rule","color":"white","strokeWidth":4},
    "encoding":{"x":{"datum":1937.9,"type":"quantitative"},"y":{"datum":1200,"type":"quantitative"},"y2":{"datum":2000}}},
   {"data":{"values":[{}]},"mark":{"type":"text","text":"\\\\","angle":90,"fontSize":13,"color":"#333"},
    "encoding":{"x":{"datum":1937.9,"type":"quantitative"},"y":{"datum":1600,"type":"quantitative"}}},
   {"data":{"values":[{"n":"San Marcos River"}]},"mark":{"type":"text","align":"left","baseline":"top","dx":7,"dy":6,"fontSize":18,"color":"black"},
    "encoding":{"x":{"datum":1937.9,"type":"quantitative"},"y":{"datum":3260,"type":"quantitative"},"text":{"field":"n"}}}
  ]},
  {"data":{"name":"pts"},"transform":[{"filter":"datum.p=='SI'"}],"mark":{"type":"point","shape":"circle","filled":true,"fill":"white","stroke":"black","strokeWidth":1,"size":72,"opacity":1},
   "encoding":{"x":{"field":"t","type":"quantitative"},"y":{"field":"z","type":"quantitative","scale":{"domain":[-0.8,2.25],"nice":false,"zero":false},"axis":{"orient":"right","values":[-0.5,0,0.5,1,1.5,2],"format":".1f","tickSize":5,"labelPadding":2,"title":null}}}},
  {"data":{"name":"trend"},"transform":[{"filter":"datum.p=='SI'"}],"mark":{"type":"line","color":"black","strokeWidth":2.5},
   "encoding":{"x":{"field":"t","type":"quantitative"},"y":{"field":"z","type":"quantitative","scale":{"domain":[-0.8,2.25],"nice":false,"zero":false},"axis":{"orient":"right","values":[-0.7,-0.6,-0.4,-0.3,-0.2,-0.1,0.1,0.2,0.3,0.4,0.6,0.7,0.8,0.9,1.1,1.2,1.3,1.4,1.6,1.7,1.8,1.9,2.1,2.2],"labels":false,"tickSize":3,"title":null}},"detail":{"field":"s"},"strokeDash":{"field":"d","type":"nominal","scale":{"domain":["s","d"],"range":[[1,0],[12,6]]},"legend":null}}}
 ],
 "resolve":{"scale":{"y":"independent"}}},
{"width":337,"height":192,
 "layer":[
  {"layer":[
   {"data":{"name":"qS"},"mark":{"type":"rule","color":"#c4c4c4","strokeWidth":1.3,"clip":true},
    "encoding":{"x":{"field":"t","type":"quantitative","scale":{"domain":[1937.9,2008.2],"nice":false,"zero":false},"axis":{"values":[1940,1945,1950,1955,1960,1965,1970,1975,1980,1985,1990,1995,2000,2005],"labelExpr":"datum.value % 10 == 0 ? toString(datum.value) : ''","tickSize":5,"labelPadding":8,"title":null}},
     "y":{"field":"q","type":"quantitative","scale":{"domain":[0,1200,2000,2500,3260],"range":[192,55,48,29,0],"nice":false,"zero":false},"axis":{"orient":"left","values":[0,250,500,750,1000,2500],"labelExpr":"datum.value % 500 == 0 ? toString(datum.value) : ''","tickSize":5,"labelPadding":11,"title":null}},
     "y2":{"datum":0}}},
   {"data":{"values":[{}]},"mark":{"type":"rule","color":"white","strokeWidth":4},
    "encoding":{"x":{"datum":1937.9,"type":"quantitative"},"y":{"datum":1200,"type":"quantitative"},"y2":{"datum":2000}}},
   {"data":{"values":[{}]},"mark":{"type":"text","text":"\\\\","angle":90,"fontSize":13,"color":"#333"},
    "encoding":{"x":{"datum":1937.9,"type":"quantitative"},"y":{"datum":1600,"type":"quantitative"}}},
   {"data":{"values":[{"n":"San Marcos River"}]},"mark":{"type":"text","align":"left","baseline":"top","dx":7,"dy":6,"fontSize":18,"color":"black"},
    "encoding":{"x":{"datum":1937.9,"type":"quantitative"},"y":{"datum":3260,"type":"quantitative"},"text":{"field":"n"}}}
  ]},
  {"data":{"name":"pts"},"transform":[{"filter":"datum.p=='SD'"}],"mark":{"type":"point","shape":"circle","filled":true,"fill":"white","stroke":"black","strokeWidth":1,"size":72,"opacity":1},
   "encoding":{"x":{"field":"t","type":"quantitative"},"y":{"field":"z","type":"quantitative","scale":{"domain":[-0.8,2.25],"nice":false,"zero":false},"axis":{"orient":"right","values":[-0.5,0,0.5,1,1.5,2],"format":".1f","tickSize":5,"labelPadding":2,"title":null}}}},
  {"data":{"name":"trend"},"transform":[{"filter":"datum.p=='SD'"}],"mark":{"type":"line","color":"black","strokeWidth":2.5},
   "encoding":{"x":{"field":"t","type":"quantitative"},"y":{"field":"z","type":"quantitative","scale":{"domain":[-0.8,2.25],"nice":false,"zero":false},"axis":{"orient":"right","values":[-0.7,-0.6,-0.4,-0.3,-0.2,-0.1,0.1,0.2,0.3,0.4,0.6,0.7,0.8,0.9,1.1,1.2,1.3,1.4,1.6,1.7,1.8,1.9,2.1,2.2],"labels":false,"tickSize":3,"title":null}},"detail":{"field":"s"},"strokeDash":{"field":"d","type":"nominal","scale":{"domain":["s","d"],"range":[[1,0],[12,6]]},"legend":null}}}
 ],
 "resolve":{"scale":{"y":"independent"}}}
]
}
